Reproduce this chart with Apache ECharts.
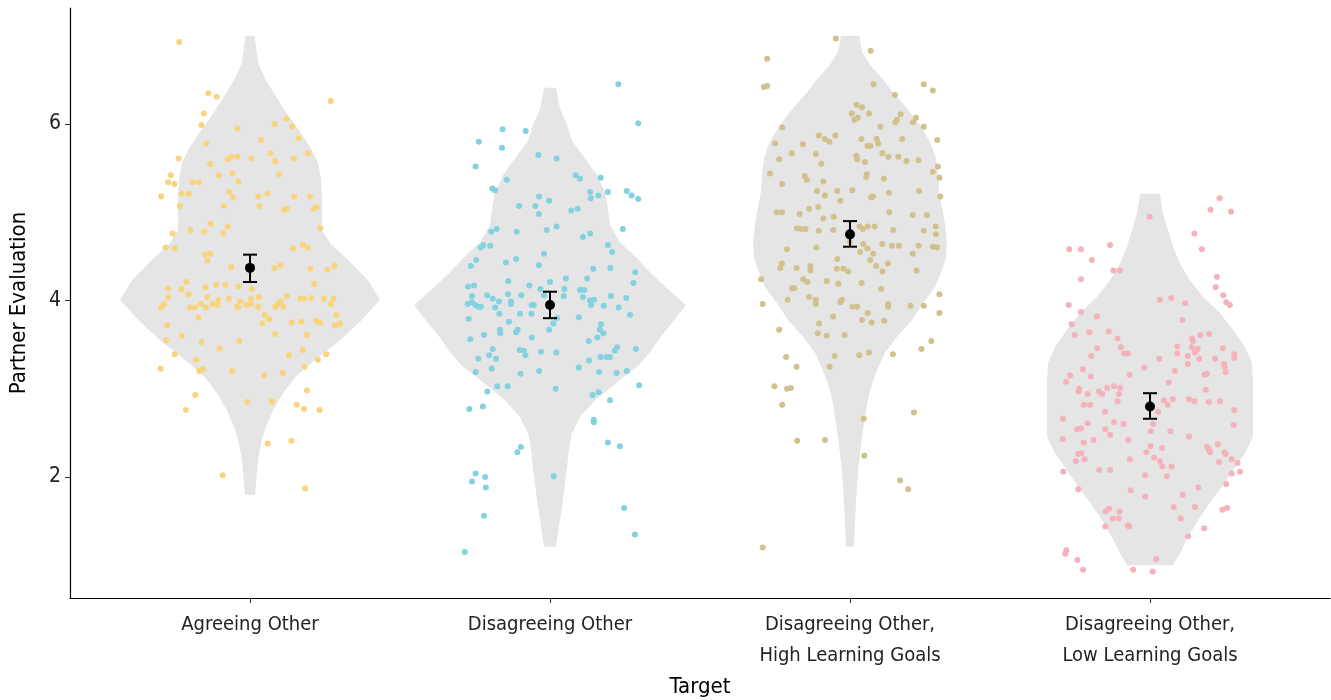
<!DOCTYPE html>
<html>
<head>
<meta charset="utf-8">
<script src="https://cdn.jsdelivr.net/npm/echarts@6/dist/echarts.min.js"></script>
<style>
  html, body { margin: 0; padding: 0; background: #fff; }
  #chart { width: 1331px; height: 700px; }
</style>
</head>
<body>
<div id="chart"></div>
<script>
// categories and summary stats
const categories = ["Agreeing Other", "Disagreeing Other", "Disagreeing Other,\nHigh Learning Goals", "Disagreeing Other,\nLow Learning Goals"];
const yTicks = [2, 4, 6];
const means = [4.37, 3.95, 4.75, 2.80];
const lowerCI = [4.21, 3.80, 4.61, 2.66];
const upperCI = [4.52, 4.10, 4.90, 2.95];
const pointColors = ["#F9D47C", "#84D2E0", "#D0C18D", "#F5B2BB"];

// violin outlines: [value, half width in x units], top to bottom
const violin1 = [[7.00,0.015],[6.69,0.027],[6.50,0.053],[6.31,0.087],[6.12,0.123],[5.93,0.163],[5.74,0.200],[5.56,0.227],[5.37,0.237],[5.14,0.240],[4.80,0.240],[4.65,0.267],[4.46,0.327],[4.23,0.393],[4.01,0.433],[3.78,0.373],[3.55,0.300],[3.33,0.217],[3.13,0.150],[2.95,0.110],[2.76,0.077],[2.57,0.053],[2.39,0.037],[2.19,0.027],[1.80,0.017]];
const violin2 = [[6.41,0.020],[6.18,0.033],[5.99,0.057],[5.80,0.075],[5.61,0.117],[5.42,0.157],[5.23,0.183],[5.05,0.193],[4.86,0.200],[4.66,0.233],[4.48,0.290],[4.32,0.333],[4.14,0.390],[3.95,0.453],[3.76,0.410],[3.55,0.360],[3.41,0.333],[3.25,0.290],[3.07,0.223],[2.87,0.150],[2.68,0.100],[2.50,0.073],[2.31,0.063],[2.11,0.057],[1.74,0.043],[1.37,0.027],[1.21,0.020]];
const violin3 = [[7.00,0.030],[6.82,0.040],[6.67,0.067],[6.52,0.107],[6.36,0.143],[6.18,0.190],[5.99,0.233],[5.80,0.267],[5.61,0.287],[5.42,0.293],[5.23,0.297],[5.05,0.307],[4.86,0.317],[4.66,0.323],[4.48,0.320],[4.29,0.300],[4.15,0.283],[3.97,0.243],[3.78,0.207],[3.59,0.157],[3.41,0.117],[3.21,0.090],[3.02,0.070],[2.84,0.057],[2.45,0.040],[2.08,0.027],[1.71,0.020],[1.21,0.013]];
const violin4 = [[5.21,0.033],[4.99,0.043],[4.80,0.060],[4.61,0.077],[4.42,0.100],[4.23,0.133],[4.04,0.177],[3.86,0.233],[3.67,0.277],[3.47,0.317],[3.29,0.340],[3.10,0.343],[2.84,0.343],[2.45,0.343],[2.27,0.317],[2.08,0.277],[1.89,0.240],[1.71,0.200],[1.51,0.160],[1.32,0.127],[1.14,0.100],[1.00,0.077]];

// raw observations: [jitter offset from category, value]
const points1 = [[-0.236,6.93],[-0.139,6.35],[-0.111,6.31],[0.269,6.26],[-0.154,6.12],[-0.162,5.99],[0.121,6.06],[0.082,6.00],[0.141,5.97],[-0.041,5.95],[0.161,5.84],[0.037,5.82],[-0.146,5.78],[0.194,5.67],[0.069,5.67],[-0.238,5.61],[-0.074,5.60],[-0.062,5.63],[-0.042,5.63],[0.004,5.61],[0.146,5.61],[0.084,5.58],[-0.133,5.55],[0.097,5.43],[-0.059,5.44],[-0.104,5.42],[-0.264,5.42],[-0.273,5.34],[-0.252,5.32],[-0.191,5.34],[-0.17,5.34],[-0.039,5.35],[-0.296,5.18],[-0.228,5.21],[-0.204,5.21],[-0.069,5.23],[-0.057,5.17],[0.027,5.18],[0.058,5.21],[0.147,5.18],[0.2,5.18],[-0.234,5.07],[-0.087,5.07],[0.032,5.07],[0.114,5.03],[0.123,5.04],[0.212,5.04],[0.222,5.06],[0.234,4.82],[-0.258,4.76],[-0.199,4.80],[-0.152,4.78],[-0.132,4.87],[-0.089,4.76],[-0.074,4.84],[-0.281,4.60],[-0.251,4.59],[-0.15,4.52],[-0.132,4.53],[-0.142,4.45],[0.144,4.59],[0.176,4.63],[0.193,4.60],[-0.063,4.38],[0.081,4.37],[0.102,4.40],[0.201,4.36],[0.281,4.39],[0.258,4.35],
  [-0.273,4.14],[-0.212,4.21],[-0.228,4.13],[-0.204,4.07],[-0.149,4.15],[-0.113,4.18],[-0.082,4.18],[-0.038,4.16],[0.006,4.13],[0.214,4.19],[-0.273,4.04],[-0.286,3.96],[-0.296,3.92],[-0.2,3.92],[-0.184,3.92],[-0.164,3.96],[-0.143,4.04],[-0.147,3.92],[-0.126,3.96],[-0.108,3.95],[-0.106,4.01],[-0.071,4.02],[-0.043,3.93],[-0.039,3.92],[-0.033,3.99],[-0.013,3.95],[0.003,4.02],[0.004,3.96],[0.027,3.93],[0.029,4.04],[0.084,3.93],[0.093,3.96],[0.101,3.99],[0.111,3.93],[0.123,4.05],[0.168,4.02],[0.181,4.02],[0.204,4.03],[0.246,4.02],[0.279,4.02],[0.269,3.96],[0.288,3.84],[0.283,3.72],[0.3,3.74],[0.221,3.77],[0.233,3.75],[0.171,3.76],[0.139,3.75],[0.049,3.84],[0.064,3.79],[0.041,3.74],[-0.172,3.81],[-0.276,3.72],[-0.227,3.60],[-0.28,3.55],[-0.161,3.53],[-0.101,3.46],[-0.036,3.54],[0.084,3.62],[0.19,3.61],[-0.251,3.39],[0.176,3.44],[0.13,3.38],[0.226,3.33],[0.254,3.39],[0.182,3.25],[-0.298,3.23],[-0.179,3.33],[-0.169,3.20],[-0.157,3.22],[-0.059,3.20],[0.047,3.15],[0.109,3.18],[0.19,2.98],[-0.182,2.93],[-0.214,2.76],[-0.009,2.85],[0.073,2.86],[0.156,2.82],[0.18,2.77],[0.232,2.76],[0.059,2.38],[0.138,2.41],[-0.091,2.02],[0.184,1.87]];
const points2 = [[0.228,6.45],[0.294,6.01],[-0.158,5.94],[-0.081,5.92],[-0.237,5.80],[-0.16,5.73],[-0.039,5.65],[0.022,5.61],[-0.248,5.52],[0.086,5.42],[0.1,5.38],[0.169,5.39],[-0.144,5.37],[-0.192,5.27],[-0.183,5.25],[0.256,5.24],[0.272,5.19],[0.294,5.15],[0.193,5.23],[0.134,5.23],[0.136,5.16],[0.161,5.19],[-0.036,5.18],[-0.003,5.13],[-0.103,5.07],[-0.049,5.07],[-0.037,4.98],[0.071,5.02],[0.092,5.04],[-0.196,4.78],[-0.178,4.81],[-0.111,4.78],[-0.011,4.80],[0.022,4.84],[0.11,4.72],[0.134,4.76],[0.243,4.81],[-0.231,4.60],[-0.222,4.63],[-0.199,4.62],[0.193,4.63],[0.207,4.55],[-0.246,4.46],[-0.264,4.39],[-0.147,4.43],[-0.113,4.47],[-0.02,4.53],[-0.037,4.40],[0.144,4.36],[0.201,4.37],[0.284,4.32],[0.278,4.20],[-0.273,4.16],[-0.253,4.17],[-0.139,4.22],[-0.069,4.17],[0,4.21],[0.053,4.25],[0.124,4.25],[-0.032,4.13],[0.048,4.13],[0.1,4.12],[0.114,4.12],[-0.26,4.05],[-0.21,4.06],[-0.191,4.02],[-0.14,4.07],[-0.096,4.06],[-0.02,4.06],[0.046,4.05],[0.11,4.04],[0.133,4.00],[0.147,4.01],[0.203,4.05],[0.254,4.03],[-0.274,3.96],[-0.26,3.98],[-0.249,3.95],[-0.239,3.93],[-0.23,3.93],[-0.17,3.99],[-0.13,3.99],[-0.13,3.96],[-0.183,3.92],[-0.061,3.95],[-0.054,3.95],[0.137,3.95],[0.179,3.94],[0.229,3.92],[-0.169,3.85],[-0.1,3.85],[-0.062,3.85],[0.267,3.84],
  [-0.271,3.79],[0.096,3.81],[0.011,3.74],[0.023,3.80],[-0.137,3.76],[0.17,3.73],[-0.167,3.67],[-0.166,3.63],[-0.113,3.64],[-0.108,3.67],[-0.003,3.67],[0.166,3.67],[0.178,3.63],[-0.22,3.61],[-0.061,3.58],[0.158,3.58],[-0.266,3.56],[0.129,3.54],[-0.191,3.45],[-0.101,3.44],[-0.087,3.43],[-0.082,3.38],[-0.03,3.42],[0.021,3.41],[-0.203,3.38],[-0.18,3.34],[-0.239,3.34],[0.13,3.32],[0.169,3.36],[0.189,3.36],[0.2,3.36],[0.216,3.43],[0.224,3.47],[0.286,3.45],[-0.194,3.23],[-0.248,3.19],[-0.098,3.17],[-0.036,3.20],[0.096,3.24],[0.164,3.19],[0.222,3.18],[0.256,3.20],[-0.176,3.03],[-0.141,3.03],[0.019,3.00],[-0.209,2.97],[0.142,2.93],[0.162,2.96],[0.297,3.04],[0.2,2.87],[-0.269,2.77],[-0.224,2.80],[0.146,2.65],[0.146,2.62],[-0.097,2.34],[-0.109,2.28],[0.193,2.39],[0.233,2.35],[0.012,2.01],[-0.248,2.04],[-0.26,1.95],[-0.216,2.00],[-0.214,1.88],[-0.22,1.56],[0.247,1.65],[0.283,1.35],[-0.284,1.15]];
const points3 = [[-0.047,6.97],[-0.276,6.74],[0.069,6.83],[-0.287,6.42],[-0.276,6.43],[0.078,6.45],[0.246,6.45],[0.276,6.38],[0.15,6.33],[0.022,6.22],[0.04,6.19],[0.006,6.12],[0.063,6.12],[0.014,6.05],[0.026,6.07],[0.169,6.11],[0.157,6.05],[0.151,6.02],[0.22,6.07],[0.21,6.02],[0.246,5.97],[0.101,5.97],[-0.226,5.96],[-0.104,5.87],[-0.084,5.83],[-0.069,5.80],[-0.049,5.87],[0.038,5.83],[0.089,5.83],[0.094,5.78],[0.174,5.83],[0.291,5.82],[-0.25,5.78],[-0.157,5.77],[0.058,5.75],[0.068,5.75],[-0.194,5.67],[-0.114,5.66],[0.021,5.64],[0.024,5.60],[0.108,5.67],[0.128,5.63],[0.161,5.63],[0.188,5.58],[0.228,5.59],[-0.236,5.60],[-0.096,5.55],[0.05,5.57],[-0.267,5.44],[-0.151,5.41],[-0.144,5.37],[0.056,5.43],[0.054,5.40],[0.113,5.38],[0.276,5.46],[0.293,5.52],[0.298,5.39],[-0.226,5.32],[-0.089,5.35],[-0.11,5.24],[-0.042,5.24],[0.008,5.25],[-0.084,5.19],[-0.032,5.13],[0.071,5.17],[0.077,5.18],[0.13,5.22],[0.23,5.24],[0.301,5.18],[-0.244,5.00],[-0.227,5.00],[-0.168,4.98],[-0.136,5.04],[-0.106,5.06],[-0.089,4.93],[-0.054,4.95],[0.131,5.00],[0.209,4.97],[0.256,4.97],[-0.177,4.82],[-0.163,4.81],[-0.148,4.81],[-0.104,4.79],[-0.056,4.80],[0.032,4.84],[0.043,4.81],[0.059,4.84],[0.082,4.84],[0.144,4.80],[0.246,4.79],[0.286,4.84],[0.286,4.75],[-0.21,4.58],[-0.112,4.60],[-0.001,4.67],[0.044,4.64],[0.058,4.59],[0.034,4.55],[0.077,4.53],[0.108,4.64],[0.14,4.62],[0.163,4.62],[0.229,4.62],[0.276,4.61],[0.29,4.60],[0.209,4.53],[-0.227,4.42],[-0.232,4.37],[-0.178,4.37],[-0.132,4.39],[-0.132,4.34],[-0.042,4.47],[-0.044,4.36],[-0.022,4.36],[-0.006,4.33],[0.067,4.46],[0.087,4.39],[0.126,4.42],[0.108,4.33],[0.222,4.34],[-0.296,4.24],[-0.156,4.24],[-0.142,4.21],[-0.078,4.22],[-0.039,4.19],[0.039,4.20],
  [-0.193,4.14],[-0.186,4.14],[0.104,4.13],[-0.291,3.96],[-0.208,4.01],[-0.136,4.04],[-0.114,4.01],[-0.114,3.96],[-0.032,3.98],[-0.027,4.01],[0.008,3.93],[0.024,3.93],[0.059,3.86],[0.04,3.78],[0.072,3.75],[0.114,3.77],[0.127,3.96],[0.127,3.93],[0.202,3.94],[0.246,3.94],[0.298,4.07],[0.298,3.86],[-0.056,3.82],[-0.103,3.74],[-0.107,3.63],[-0.078,3.60],[-0.018,3.61],[-0.236,3.67],[0.271,3.54],[0.238,3.45],[0.143,3.39],[0.063,3.41],[0.031,3.38],[-0.051,3.37],[-0.068,3.25],[-0.213,3.36],[-0.178,3.25],[-0.252,3.03],[-0.21,3.00],[-0.197,3.01],[-0.226,2.82],[0.213,2.73],[0.046,2.66],[-0.176,2.41],[-0.083,2.42],[0.048,2.24],[0.167,1.96],[0.194,1.86],[-0.291,1.20]];
const points4 = [[0.232,5.16],[0.202,5.03],[0.27,5.01],[-0.001,4.95],[0.148,4.76],[0.173,4.58],[-0.269,4.58],[-0.23,4.58],[-0.133,4.63],[-0.194,4.46],[-0.122,4.34],[-0.101,4.34],[-0.23,4.24],[0.223,4.27],[0.219,4.15],[0.244,4.06],[0.254,3.98],[0.266,3.95],[-0.271,3.95],[-0.23,3.87],[0.033,4.01],[0.071,4.03],[0.117,3.97],[-0.177,3.82],[-0.261,3.73],[0.108,3.78],[-0.251,3.61],[-0.202,3.64],[-0.138,3.65],[-0.108,3.57],[-0.097,3.47],[-0.086,3.40],[-0.074,3.40],[-0.176,3.46],[-0.196,3.37],[0.091,3.48],[0.091,3.40],[0.14,3.57],[0.143,3.54],[0.139,3.47],[0.168,3.61],[0.197,3.62],[0.159,3.45],[0.149,3.41],[0.126,3.37],[0.126,3.28],[0.164,3.34],[0.217,3.34],[0.243,3.46],[0.281,3.39],[0.281,3.35],[0.247,3.28],[0.249,3.25],[0.252,3.19],[0.031,3.34],[-0.019,3.24],[-0.068,3.16],[0.083,3.20],[-0.224,3.22],[-0.266,3.15],[-0.197,3.14],[0.182,3.16],[0.19,3.17],
  [-0.28,3.08],[-0.236,3.00],[-0.238,2.97],[-0.208,2.94],[-0.17,2.97],[-0.159,2.94],[-0.143,3.01],[-0.12,3.03],[-0.1,3.01],[-0.104,2.94],[-0.108,2.86],[-0.22,2.82],[-0.2,2.82],[-0.15,2.74],[-0.29,2.66],[-0.208,2.61],[-0.243,2.54],[-0.23,2.55],[-0.149,2.54],[-0.133,2.48],[-0.12,2.62],[-0.088,2.60],[-0.291,2.43],[-0.188,2.42],[-0.221,2.39],[-0.239,2.26],[-0.229,2.27],[-0.247,2.18],[-0.218,2.20],[-0.072,2.42],[-0.067,2.20],[-0.289,2.06],[-0.169,2.08],[-0.133,2.08],[-0.239,1.86],[-0.064,1.85],[-0.148,1.61],[-0.136,1.64],[-0.124,1.53],[-0.102,1.61],[-0.104,1.53],[-0.149,1.44],[-0.074,1.45],[-0.069,1.44],[-0.016,2.02],[-0.016,1.78],[0.027,2.74],[0.01,2.60],[0.003,2.52],[0.002,2.35],[-0.012,2.28],[0.04,2.33],[0.014,2.22],[0.033,2.18],[0.041,2.12],[0.072,2.12],[0.056,2.01],[0.068,2.52],[0.13,2.46],[0.046,2.87],[0.059,2.82],[0.076,2.88],[0.062,3.07],[0.13,2.88],[0.148,2.86],[0.186,2.99],[0.196,2.85],[0.233,2.86],[0.281,2.76],[0.279,2.59],[0.19,2.34],[0.197,2.31],[0.2,2.28],[0.226,2.37],[0.248,2.28],[0.252,2.26],[0.23,2.17],[0.272,2.20],[0.292,2.16],[0.3,2.06],[0.272,2.04],[0.254,1.92],[0.161,1.88],[0.109,1.80],[0.079,1.66],[0.15,1.66],[0.102,1.53],[0.181,1.42],[0.127,1.33],[0.241,1.63],[0.257,1.65],[-0.279,1.17],[-0.282,1.13],[-0.242,1.06],[-0.223,0.95],[-0.056,0.95],[0.009,0.93],[0.021,1.07]];

const violins = [violin1, violin2, violin3, violin4];
const pointSets = [points1, points2, points3, points4];

const FONT = "'Liberation Sans Narrow', 'DejaVu Sans Condensed', sans-serif";
const chart = echarts.init(document.getElementById("chart"));

const scatterSeries = pointSets.map((pts, i) => ({
  type: "scatter",
  data: pts.map(p => [i + p[0], p[1]]),
  symbolSize: 6,
  itemStyle: { color: pointColors[i], opacity: 1 },
  silent: true,
  z: 3
}));

const option = {
  animation: false,
  grid: { left: 70, right: 1, top: 8, bottom: 102, outerBoundsMode: "none", containLabel: false },
  xAxis: {
    type: "value",
    min: -0.6,
    max: 3.6,
    splitLine: { show: false },
    axisLine: { show: true, onZero: false, lineStyle: { color: "#000", width: 1.2 } },
    axisTick: { show: true, customValues: [0, 1, 2, 3], length: 5, lineStyle: { color: "#333" } },
    axisLabel: {
      customValues: [0, 1, 2, 3],
      formatter: v => categories[Math.round(v)],
      fontFamily: FONT, fontSize: 20, color: "#222", margin: 11, lineHeight: 31
    },
    name: "Target",
    nameLocation: "middle",
    nameGap: 77,
    nameTextStyle: { fontFamily: FONT, fontSize: 22, color: "#000" }
  },
  yAxis: {
    type: "value",
    min: 0.629,
    max: 7.315,
    splitLine: { show: false },
    axisLine: { show: true, onZero: false, lineStyle: { color: "#000", width: 1.2 } },
    axisTick: { show: true, customValues: yTicks, length: 5, lineStyle: { color: "#333" } },
    axisLabel: {
      customValues: yTicks,
      fontFamily: FONT, fontSize: 21, color: "#222", margin: 9
    },
    name: "Partner Evaluation",
    nameLocation: "middle",
    nameGap: 40,
    nameTextStyle: { fontFamily: FONT, fontSize: 22, color: "#000" }
  },
  series: [
    {
      type: "custom",
      silent: true,
      z: 1,
      data: [[0], [1], [2], [3]],
      renderItem: (params, api) => {
        const i = api.value(0);
        const prof = violins[i];
        const left = prof.map(([v, w]) => api.coord([i - w, v]));
        const right = prof.slice().reverse().map(([v, w]) => api.coord([i + w, v]));
        return {
          type: "polygon",
          shape: { points: left.concat(right) },
          style: { fill: "#E5E5E5" }
        };
      }
    },
    ...scatterSeries,
    {
      type: "custom",
      silent: true,
      z: 5,
      data: means.map((m, i) => [i, lowerCI[i], upperCI[i]]),
      renderItem: (params, api) => {
        const lo = api.coord([api.value(0), api.value(1)]);
        const hi = api.coord([api.value(0), api.value(2)]);
        const cap = 7;
        const st = { stroke: "#000", lineWidth: 2 };
        return {
          type: "group",
          children: [
            { type: "line", shape: { x1: lo[0], y1: lo[1], x2: hi[0], y2: hi[1] }, style: st },
            { type: "line", shape: { x1: lo[0] - cap, y1: lo[1], x2: lo[0] + cap, y2: lo[1] }, style: st },
            { type: "line", shape: { x1: hi[0] - cap, y1: hi[1], x2: hi[0] + cap, y2: hi[1] }, style: st }
          ]
        };
      }
    },
    {
      type: "scatter",
      silent: true,
      z: 6,
      data: means.map((m, i) => [i, m]),
      symbolSize: 10,
      itemStyle: { color: "#000", opacity: 1 }
    }
  ]
};

chart.setOption(option);
</script>
</body>
</html>
